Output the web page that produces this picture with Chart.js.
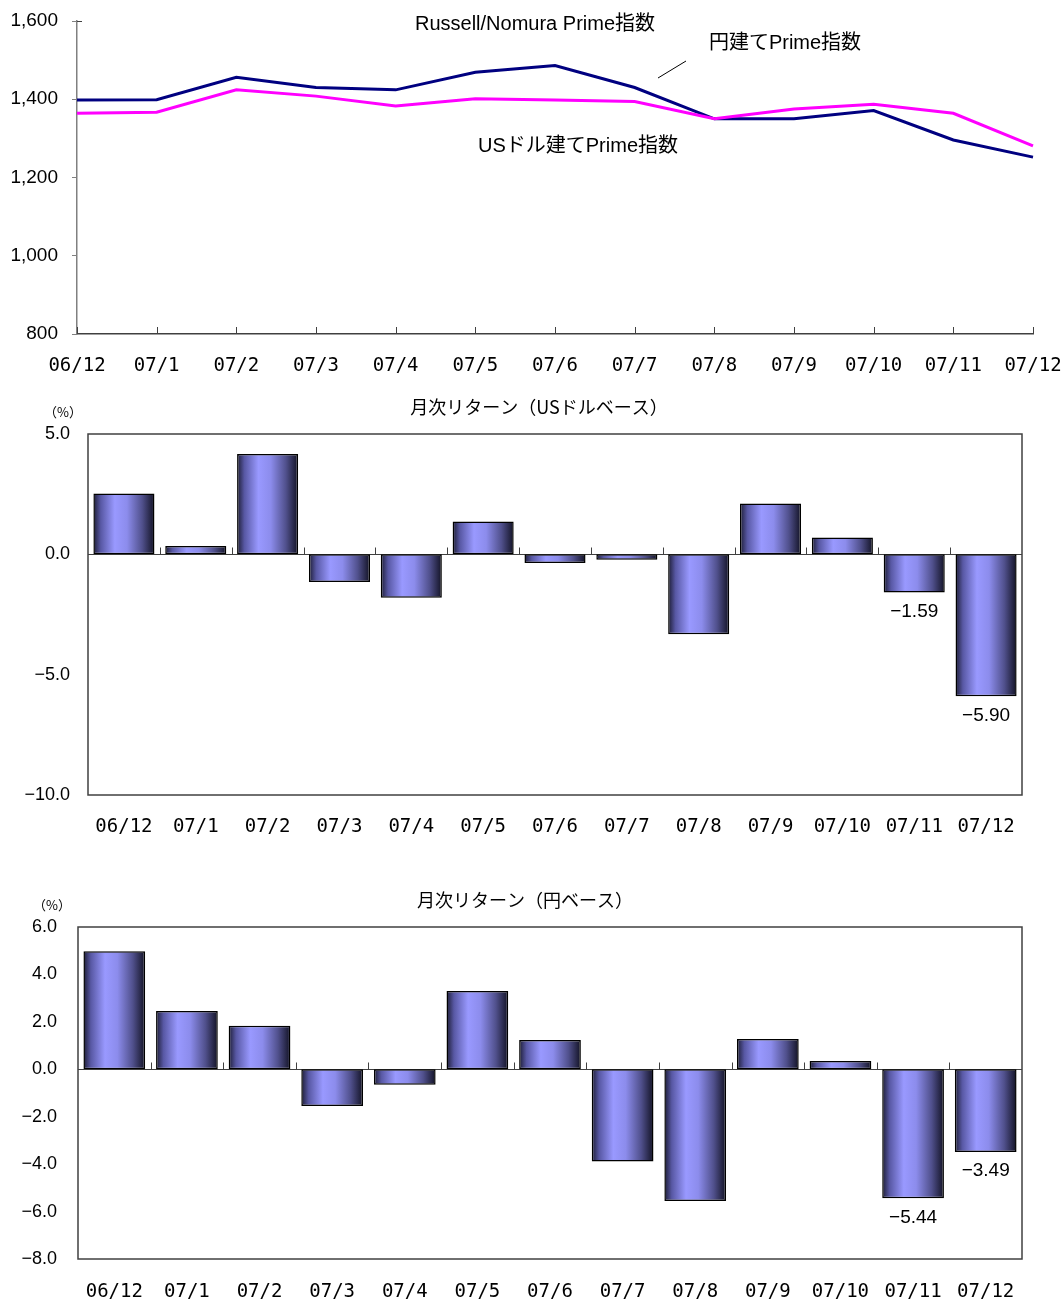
<!DOCTYPE html>
<html>
<head>
<meta charset="utf-8">
<script src="https://cdn.jsdelivr.net/npm/chart.js@4.4.0/dist/chart.umd.min.js"></script>
<style>
body { margin: 0; background: #fff; width: 1062px; height: 1300px; position: relative; overflow: hidden; }
canvas { position: absolute; left: 0; }
</style>
</head>
<body>
<canvas id="indexChart" width="1062" height="385" style="top:0"></canvas>
<canvas id="usdChart" width="1062" height="455" style="top:390px"></canvas>
<canvas id="yenChart" width="1062" height="420" style="top:880px"></canvas>
<script>
const months = ['06/12', '07/1', '07/2', '07/3', '07/4', '07/5', '07/6', '07/7', '07/8', '07/9', '07/10', '07/11', '07/12'];

// index levels
const yenIndex = [1398, 1399, 1456, 1430, 1424, 1469, 1486, 1430, 1350, 1350, 1371, 1296, 1252];
const usdIndex = [1364, 1367, 1424, 1408, 1383, 1401, 1398, 1394, 1350, 1375, 1387, 1364, 1281];

// monthly returns (%)
const usdReturn = [2.53, 0.35, 4.17, -1.15, -1.80, 1.36, -0.36, -0.22, -3.32, 2.11, 0.70, -1.59, -5.90];
const yenReturn = [4.98, 2.46, 1.84, -1.55, -0.65, 3.30, 1.23, -3.89, -5.55, 1.28, 0.35, -5.44, -3.49];

const labeledBars = [11, 12];

Chart.defaults.font.family = '"Liberation Sans", "Noto Sans CJK JP", sans-serif';
Chart.defaults.color = '#000';

const fmt = (v, d) => (v < 0 ? '−' : '') + Math.abs(v).toFixed(d);
const noteFont = '20px "Liberation Sans", "Noto Sans CJK JP", sans-serif';
const monthFont = { family: '"DejaVu Sans Mono", "Liberation Mono", monospace', size: 19 };

// ---------- top: index lines ----------
const indexNotes = {
	id: 'indexNotes',
	afterDatasetsDraw(chart) {
		const { ctx, chartArea: a, scales: { x } } = chart;
		ctx.save();
		// inward ticks on the category axis
		ctx.strokeStyle = '#404040';
		ctx.lineWidth = 1;
		ctx.beginPath();
		months.forEach((m, i) => {
			const px = Math.round(x.getPixelForValue(i)) + 0.5;
			ctx.moveTo(px, a.bottom);
			ctx.lineTo(px, a.bottom - 7);
		});
		ctx.moveTo(a.left, a.top + 0.5);
		ctx.lineTo(a.left + 5, a.top + 0.5);
		ctx.stroke();

		ctx.fillStyle = '#000';
		ctx.font = noteFont;
		ctx.textAlign = 'center';
		ctx.textBaseline = 'middle';
		ctx.fillText('Russell/Nomura Prime指数', 535, 24);
		ctx.fillText('円建てPrime指数', 785, 43);
		ctx.fillText('USドル建てPrime指数', 578, 146);

		ctx.strokeStyle = '#000';
		ctx.beginPath();
		ctx.moveTo(658, 78);
		ctx.lineTo(686, 61);
		ctx.stroke();
		ctx.restore();
	}
};

new Chart(document.getElementById('indexChart'), {
	type: 'line',
	data: {
		labels: months,
		datasets: [
			{ label: '円建てPrime指数', data: yenIndex, borderColor: '#000080', borderWidth: 3, pointRadius: 0, order: 1 },
			{ label: 'USドル建てPrime指数', data: usdIndex, borderColor: '#ff00ff', borderWidth: 3, pointRadius: 0, order: 0 }
		]
	},
	options: {
		responsive: false,
		animation: false,
		layout: { padding: { top: 21, right: 29, left: 0, bottom: 0 } },
		plugins: { legend: { display: false }, tooltip: { enabled: false } },
		scales: {
			x: {
				offset: false,
				grid: { display: false },
				border: { display: true, color: '#404040', width: 1.5 },
				ticks: { font: monthFont, padding: 13, maxRotation: 0, autoSkip: false },
				afterFit: s => { s.height = 51; s.paddingLeft = 0; s.paddingRight = 0; }
			},
			y: {
				min: 800,
				max: 1600,
				grid: { display: true, drawOnChartArea: false, drawTicks: true, tickLength: 5, color: '#808080' },
				border: { display: true, color: '#808080', width: 1.5 },
				ticks: { stepSize: 200, font: { size: 19 }, padding: 14, callback: v => v.toLocaleString('en-US') },
				afterFit: s => { s.width = 77; s.paddingTop = 0; s.paddingBottom = 0; }
			}
		}
	},
	plugins: [indexNotes]
});

// ---------- bar charts ----------
function barFill(context) {
	const chart = context.chart;
	const a = chart.chartArea;
	if (!a) return '#9999ff';
	const x = chart.scales.x.getPixelForValue(context.dataIndex);
	const w = a.width / months.length * 0.85;
	const g = chart.ctx.createLinearGradient(x - w / 2, 0, x + w / 2, 0);
	g.addColorStop(0, '#1c1c34');
	g.addColorStop(0.12, '#5858a4');
	g.addColorStop(0.35, '#9999ff');
	g.addColorStop(0.55, '#8c8cec');
	g.addColorStop(0.8, '#50508c');
	g.addColorStop(1, '#121224');
	return g;
}

function barDecor(title, titleX, unitX) {
	return {
		id: 'barDecor',
		beforeDatasetsDraw(chart) {
			const { ctx, chartArea: a, scales: { y } } = chart;
			const y0 = Math.round(y.getPixelForValue(0)) + 0.5;
			const step = a.width / months.length;
			ctx.save();
			ctx.strokeStyle = '#404040';
			ctx.lineWidth = 1.5;
			ctx.strokeRect(a.left, a.top, a.width, a.height);
			ctx.lineWidth = 1;
			ctx.beginPath();
			ctx.moveTo(a.left, y0);
			ctx.lineTo(a.right, y0);
			for (let i = 1; i < months.length; i++) {
				const px = Math.round(a.left + step * i) + 0.5;
				ctx.moveTo(px, y0);
				ctx.lineTo(px, y0 - 7);
			}
			ctx.stroke();
			ctx.restore();
		},
		afterDatasetsDraw(chart) {
			const { ctx, chartArea: a } = chart;
			const meta = chart.getDatasetMeta(0);
			const vals = chart.data.datasets[0].data;
			ctx.save();
			ctx.fillStyle = '#000';
			ctx.font = '19px "Liberation Sans", sans-serif';
			ctx.textAlign = 'center';
			ctx.textBaseline = 'middle';
			labeledBars.forEach(i => {
				const bar = meta.data[i];
				ctx.fillText(fmt(vals[i], 2), bar.x, bar.y + (vals[i] < 0 ? 19 : -19));
			});
			ctx.font = '18px "Noto Sans CJK JP", sans-serif';
			ctx.fillText(title, titleX, a.top - 27);
			ctx.font = '13px "Noto Sans CJK JP", sans-serif';
			ctx.fillText('（%）', unitX, a.top - 22);
			ctx.restore();
		}
	};
}

function barOptions(min, max, step, yWidth, xHeight, padTop, labelPad, xPad) {
	return {
		responsive: false,
		animation: false,
		layout: { padding: { top: padTop, right: 40, left: 0, bottom: 0 } },
		plugins: { legend: { display: false }, tooltip: { enabled: false } },
		scales: {
			x: {
				grid: { display: false },
				border: { display: false },
				ticks: { font: monthFont, padding: xPad, maxRotation: 0, autoSkip: false },
				afterFit: s => { s.height = xHeight; }
			},
			y: {
				min: min,
				max: max,
				grid: { display: false },
				border: { display: false },
				ticks: { stepSize: step, font: { size: 18 }, padding: labelPad, callback: v => fmt(v, 1) },
				afterFit: s => { s.width = yWidth; s.paddingTop = 0; s.paddingBottom = 0; }
			}
		}
	};
}

new Chart(document.getElementById('usdChart'), {
	type: 'bar',
	data: {
		labels: months,
		datasets: [{
			label: '月次リターン（USドルベース）',
			data: usdReturn,
			backgroundColor: barFill,
			borderColor: '#000',
			borderWidth: 1.5,
			borderSkipped: false,
			barPercentage: 0.85,
			categoryPercentage: 1
		}]
	},
	options: barOptions(-10, 5, 5, 88, 50, 44, 10, 13),
	plugins: [barDecor('月次リターン（USドルベース）', 539, 63)]
});

new Chart(document.getElementById('yenChart'), {
	type: 'bar',
	data: {
		labels: months,
		datasets: [{
			label: '月次リターン（円ベース）',
			data: yenReturn,
			backgroundColor: barFill,
			borderColor: '#000',
			borderWidth: 1.5,
			borderSkipped: false,
			barPercentage: 0.85,
			categoryPercentage: 1
		}]
	},
	options: barOptions(-8, 6, 2, 78, 41, 47, 13, 14),
	plugins: [barDecor('月次リターン（円ベース）', 525, 52)]
});
</script>
</body>
</html>
